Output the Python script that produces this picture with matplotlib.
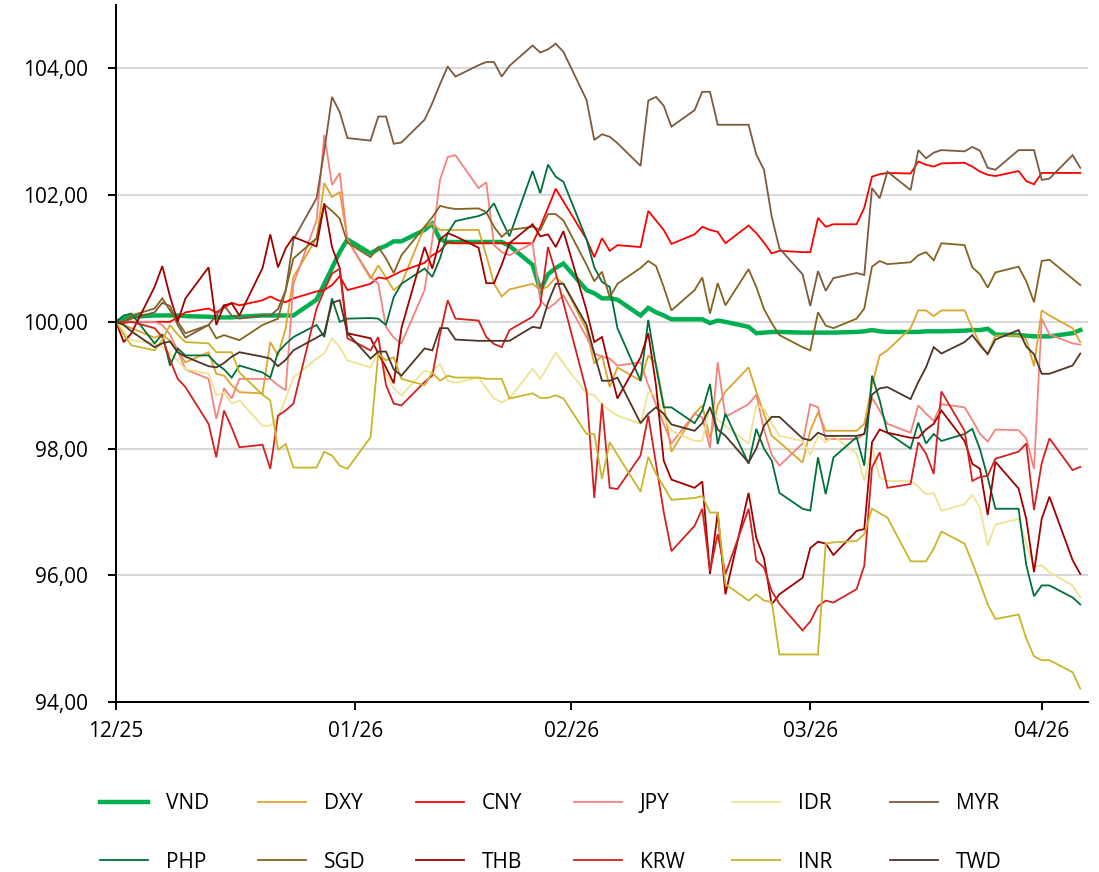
"""Currency indices vs USD, base 100 (12/25 - 04/26)"""
import matplotlib
matplotlib.use("Agg")
import matplotlib.pyplot as plt
import matplotlib.dates as mdates
import pandas as pd

plt.rcParams["font.family"] = ["Open Sans", "DejaVu Sans"]

# trading days, Dec 31 2025 .. May 5 2026
dates = pd.bdate_range("2025-12-31", "2026-05-05")

vnd = [100.0, 100.05, 100.08, 100.1, 100.1, 100.1, 100.1, 100.09, 100.08, 100.07, 100.07, 100.07, 100.08,
       100.1, 100.1, 100.1, 100.1, 100.1, 100.35, 100.6, 100.85, 101.1, 101.3,
       101.08, 101.15, 101.2, 101.27, 101.27, 101.45, 101.55, 101.3, 101.26, 101.26, 101.26, 101.26, 101.26,
       101.26, 101.2, 100.9, 100.5, 100.75, 100.85, 100.92,
       100.5, 100.45, 100.37, 100.37, 100.35, 100.1, 100.22, 100.15, 100.1, 100.04, 100.04, 100.04, 99.98,
       100.02, 100.0, 99.92, 99.82, 99.83, 99.84, 99.84,
       99.83, 99.83, 99.83, 99.83, 99.83, 99.84, 99.85, 99.87, 99.85, 99.84, 99.84, 99.84, 99.85, 99.85,
       99.85, 99.86, 99.87, 99.87, 99.89, 99.8, 99.79, 99.78, 99.77, 99.77, 99.77, 99.82, 99.87]
dxy = [100.0, 99.95, 99.9, 99.75, 99.8, 99.7, 99.55, 99.36, 99.52, 99.18, 99.15, 99.0, 98.89,
       98.87, 99.68, 99.47, 99.9, 100.71, 101.32, 102.19, 101.97, 102.05, 101.3,
       100.68, 100.89, 100.7, 100.5, 100.6, 101.5, 101.55, 101.45, 101.45, 101.45, 101.45, 101.05, 100.6,
       100.4, 100.51, 100.6, 100.5, 100.56, 100.7, 100.6,
       99.87, 99.34, 99.47, 98.97, 99.28, 99.07, 99.47, 99.34, 98.7, 97.95, 98.55, 98.68, 98.15,
       98.68, 98.9, 99.28, 98.9, 98.55, 98.2, 98.1,
       97.78, 98.28, 98.57, 98.28, 98.28, 98.28, 98.39, 99.0, 99.47, 99.55, 99.9, 100.18, 100.18, 100.09,
       100.18, 100.18, 99.9, 99.66, 99.49, 99.78, 99.78, 99.72, 99.3, 100.18, 100.1, 99.9, 99.68]
cny = [100.0, 100.0, 100.0, 100.0, 100.0, 100.0, 100.07, 100.15, 100.21, 100.15, 100.22, 100.3, 100.26,
       100.34, 100.4, 100.34, 100.31, 100.37, 100.48, 100.5, 100.58, 100.72, 100.5,
       100.6, 100.7, 100.68, 100.74, 100.8, 100.93, 101.05, 101.12, 101.26, 101.24, 101.24, 101.24, 101.24,
       101.24, 101.24, 101.24, 101.5, 101.8, 102.1, 101.9,
       101.3, 101.02, 101.32, 101.12, 101.21, 101.18, 101.75, 101.6, 101.45, 101.23, 101.38, 101.5, 101.45,
       101.42, 101.24, 101.52, 101.4, 101.25, 101.08, 101.12,
       101.1, 101.1, 101.64, 101.5, 101.54, 101.54, 101.8, 102.29, 102.33, 102.35, 102.34, 102.53, 102.48,
       102.45, 102.5, 102.51, 102.45, 102.37, 102.32, 102.3, 102.38, 102.22, 102.17, 102.35, 102.35,
       102.35, 102.35]
jpy = [100.0, 100.0, 100.0, 100.0, 99.95, 99.8, 99.55, 99.25, 99.1, 98.47, 98.95, 98.79, 99.1,
       99.1, 99.1, 99.0, 98.92, 100.6, 101.6, 102.95, 102.16, 102.35, 101.29,
       100.71, 100.6, 99.92, 99.75, 99.66, 100.5, 101.29, 102.24, 102.6, 102.63, 102.11, 102.2, 101.21,
       101.1, 101.05, 101.24, 100.34, 100.21, 100.3, 100.42,
       99.76, 99.5, 99.45, 99.42, 99.31, 99.36, 99.0, 98.7, 98.39, 98.08, 98.55, 98.49, 98.01,
       99.36, 98.5, 98.7, 98.85, 98.3, 97.9, 97.73,
       98.08, 98.7, 98.65, 98.15, 98.15, 98.15, 98.23, 98.8, 98.6, 98.39, 98.25, 98.68, 98.55, 98.44,
       98.7, 98.65, 98.45, 98.23, 98.11, 98.3, 98.29, 98.16, 97.68, 100.05, 99.8, 99.66, 99.64]
idr = [100.0, 99.85, 99.71, 99.66, 99.6, 99.5, 99.39, 99.25, 99.18, 98.84, 98.89, 98.71, 98.76,
       98.36, 98.36, 98.49, 98.79, 99.12, 99.42, 99.5, 99.74, 99.6, 99.39,
       99.28, 99.52, 99.18, 98.95, 98.84, 99.23, 99.2, 99.34, 99.07, 99.04, 99.12, 98.95, 98.79,
       98.73, 98.79, 99.26, 99.1, 99.3, 99.52, 99.34,
       98.87, 98.84, 98.7, 98.6, 98.52, 98.39, 98.89, 98.84, 98.5, 98.28, 98.12, 98.12, 98.68,
       98.45, 98.36, 98.08, 98.68, 98.63, 98.4, 98.2,
       98.12, 97.9, 98.2, 98.1, 98.2, 97.92, 97.49, 98.02, 97.54, 97.49, 97.49, 97.4, 97.28, 97.3,
       97.02, 97.12, 97.27, 97.06, 96.47, 96.8, 96.89, 96.5, 96.13, 96.16, 96.05, 95.84, 95.65]
myr = [100.0, 100.0, 100.05, 100.15, 100.3, 100.25, 99.95, 99.75, 99.95, 100.1, 100.26, 100.1, 100.05,
       100.1, 100.1, 100.2, 100.5, 101.3, 101.95, 102.7, 103.55, 103.31, 102.9,
       102.86, 103.24, 103.24, 102.81, 102.83, 103.19, 103.45, 103.75, 104.03, 103.87, 104.05, 104.1, 104.1,
       103.87, 104.04, 104.36, 104.25, 104.3, 104.39, 104.26,
       103.5, 102.87, 102.96, 102.92, 102.82, 102.46, 103.49, 103.55, 103.41, 103.08, 103.34, 103.63, 103.63,
       103.11, 103.11, 103.11, 102.64, 102.4, 101.66, 101.16,
       100.75, 100.25, 100.8, 100.49, 100.69, 100.77, 100.74, 102.11, 101.95, 102.37, 102.08, 102.71, 102.58,
       102.67, 102.71, 102.69, 102.76, 102.7, 102.43, 102.4, 102.71, 102.71, 102.71, 102.24, 102.26,
       102.63, 102.43]
php = [100.0, 100.1, 100.13, 99.66, 99.8, 99.31, 99.58, 99.47, 99.47, 99.34, 99.25, 99.12, 99.31,
       99.2, 99.12, 99.52, 99.65, 99.76, 99.95, 99.76, 100.37, 100.0, 100.05,
       100.06, 100.05, 99.95, 100.39, 100.6, 100.84, 100.71, 101.0, 101.4, 101.59, 101.67, 101.72, 101.87,
       101.6, 101.35, 102.38, 102.03, 102.48, 102.29, 102.21,
       101.3, 100.86, 100.63, 100.55, 99.9, 99.07, 100.03, 99.3, 98.65, 98.65, 98.4, 98.6, 99.02,
       98.07, 98.55, 97.76, 98.31, 98.0, 97.81, 97.3,
       97.05, 97.02, 97.86, 97.28, 97.86, 98.18, 97.73, 99.15, 98.76, 98.25, 98.0, 98.41, 98.08, 98.23,
       98.12, 98.23, 98.31, 97.99, 97.54, 97.05, 97.05, 96.16, 95.67, 95.84, 95.84, 95.65, 95.54]
sgd = [100.0, 100.0, 100.1, 100.21, 100.37, 100.18, 100.0, 99.82, 99.95, 99.74, 99.79, 99.75, 99.71,
       99.95, 100.0, 100.05, 100.5, 101.0, 101.32, 101.85, 101.75, 101.63, 101.25,
       101.02, 101.18, 101.0, 100.77, 101.05, 101.5, 101.65, 101.83, 101.8, 101.78, 101.79, 101.73, 101.5,
       101.34, 101.45, 101.5, 101.45, 101.7, 101.7, 101.6,
       100.9, 100.64, 100.79, 100.39, 100.6, 100.85, 100.96, 100.88, 100.55, 100.18, 100.5, 100.7, 100.13,
       100.61, 100.26, 100.83, 100.55, 100.2, 99.98, 99.79,
       99.6, 99.55, 100.15, 99.94, 99.9, 100.05, 100.21, 100.87, 100.96, 100.91, 100.94, 101.05, 101.1,
       100.97, 101.24, 101.21, 100.86, 100.75, 100.54, 100.78, 100.87, 100.64, 100.31, 100.96, 100.98,
       100.68, 100.58]
thb = [100.0, 99.68, 99.82, 100.55, 100.88, 100.4, 100.0, 100.37, 100.86, 99.95, 100.26, 100.29, 100.1,
       100.85, 101.38, 100.86, 101.16, 101.34, 101.19, 101.87, 101.18, 100.85, 99.82,
       99.74, 99.5, 99.28, 99.03, 99.9, 101.18, 100.84, 101.3, 101.4, 101.35, 101.17, 100.61, 100.61,
       100.9, 101.24, 101.54, 101.35, 101.38, 101.18, 101.43,
       100.18, 99.68, 99.76, 99.26, 98.79, 99.44, 99.82, 99.0, 97.81, 97.51, 97.38, 97.48, 96.02,
       96.99, 95.7, 97.3, 96.59, 96.27, 95.54, 95.7,
       95.96, 96.43, 96.53, 96.5, 96.32, 96.7, 96.73, 98.1, 98.3, 98.25, 98.17, 98.17, 98.3, 98.39,
       98.6, 98.12, 97.76, 97.68, 96.95, 97.79, 97.37, 96.89, 96.05, 96.89, 97.24, 96.24, 96.02]
krw = [100.0, 99.98, 100.0, 99.9, 99.76, 99.4, 99.1, 98.97, 98.39, 97.86, 98.6, 98.33, 98.02,
       98.06, 97.68, 98.52, 98.6, 98.71, 100.21, 100.5, 100.76, 100.84, 99.74,
       99.55, 99.76, 99.0, 98.71, 98.68, 99.05, 99.15, 99.8, 100.34, 100.05, 100.02, 99.76, 99.65,
       99.6, 99.87, 100.08, 100.26, 101.18, 100.77, 100.3,
       98.9, 97.22, 98.71, 97.38, 97.36, 97.89, 98.52, 97.76, 97.0, 96.38, 96.78, 97.05, 96.07,
       96.65, 96.02, 97.05, 96.23, 96.12, 95.75, 95.55,
       95.13, 95.27, 95.51, 95.6, 95.57, 95.78, 96.15, 97.7, 97.94, 97.38, 97.44, 98.1, 97.92, 97.6,
       98.9, 98.28, 97.49, 97.55, 97.57, 97.84, 97.95, 98.08, 97.03, 97.77, 98.16, 97.66, 97.71]
inr = [100.0, 99.8, 99.63, 99.55, 99.71, 99.95, 99.8, 99.68, 99.66, 99.52, 99.52, 99.52, 99.2,
       98.85, 98.76, 97.98, 98.07, 97.7, 97.7, 97.95, 97.89, 97.73, 97.68,
       98.18, 99.5, 99.39, 99.44, 99.1, 99.0, 99.2, 99.07, 99.15, 99.12, 99.12, 99.1, 99.1,
       99.1, 98.79, 98.87, 98.8, 98.8, 98.84, 98.79,
       98.23, 98.23, 97.52, 98.1, 97.9, 97.32, 97.87, 97.6, 97.4, 97.19, 97.22, 97.25, 96.99,
       96.99, 95.86, 95.6, 95.7, 95.6, 95.58, 94.75,
       94.75, 94.75, 94.75, 96.5, 96.52, 96.54, 96.65, 97.05, 96.98, 96.91, 96.22, 96.22, 96.22, 96.42,
       96.69, 96.5, 96.2, 95.88, 95.54, 95.31, 95.38, 95.0, 94.72, 94.66, 94.66, 94.47, 94.21]
twd = [100.0, 99.95, 99.85, 99.6, 99.66, 99.69, 99.52, 99.45, 99.3, 99.28, 99.35, 99.45, 99.52,
       99.45, 99.42, 99.3, 99.4, 99.55, 99.75, 99.82, 100.3, 100.34, 99.82,
       99.42, 99.53, 99.53, 99.25, 99.15, 99.58, 99.55, 99.9, 99.9, 99.72, 99.7, 99.7, 99.7,
       99.7, 99.7, 99.92, 99.9, 100.3, 100.6, 100.6,
       99.95, 99.5, 99.07, 99.07, 99.12, 98.4, 98.55, 98.65, 98.55, 98.38, 98.28, 98.4, 98.65,
       98.3, 98.2, 97.78, 98.0, 98.36, 98.5, 98.5,
       98.16, 98.13, 98.25, 98.2, 98.2, 98.2, 98.23, 98.85, 98.95, 98.97, 98.78, 99.05, 99.28, 99.6,
       99.5, 99.68, 99.79, 99.63, 99.49, 99.72, 99.87, 99.61, 99.49, 99.18, 99.18, 99.31, 99.5]

names = ["VND", "DXY", "CNY", "JPY", "IDR", "MYR", "PHP", "SGD", "THB", "KRW", "INR", "TWD"]
series = [vnd, dxy, cny, jpy, idr, myr, php, sgd, thb, krw, inr, twd]
colors = ["#00B050", "#DDA52C", "#FF0000", "#F4837D", "#EEE391", "#7E5A3C",
          "#00703A", "#846420", "#A00000", "#D42020", "#C9B52A", "#4E3626"]

tick_dates = ["2025-12-31", "2026-01-31", "2026-02-28", "2026-03-31", "2026-04-30"]
tick_labels = ["12/25", "01/26", "02/26", "03/26", "04/26"]
y_ticks = [94, 96, 98, 100, 102, 104]

fig = plt.figure(figsize=(10.99, 8.72), dpi=100)
ax = fig.add_axes([116 / 1099, 1 - 702 / 872, (1088 - 116) / 1099, (702 - 5) / 872])

lines = {}
for name, vals, col in zip(names, series, colors):
    lw = 3.2 if name == "VND" else 1.3
    (ln,) = ax.plot(dates, vals, color=col, lw=lw, label=name, solid_joinstyle="miter")
    lines[name] = ln

ax.set_xlim(pd.Timestamp("2025-12-31"), pd.Timestamp("2026-05-06"))
ax.set_ylim(94, 105)
ax.set_yticks(y_ticks)
ax.set_yticklabels([f"{v:.2f}".replace(".", ",") for v in y_ticks])
ax.set_xticks([mdates.date2num(pd.Timestamp(d)) for d in tick_dates])
ax.set_xticklabels(tick_labels)
ax.grid(axis="y", color="#D9D9D9", lw=1.5)
ax.set_axisbelow(True)
for s in ["top", "right"]:
    ax.spines[s].set_visible(False)
for s in ["left", "bottom"]:
    ax.spines[s].set_linewidth(1.4)
ax.tick_params(axis="both", labelsize=15, width=1.4, length=6, direction="out")
ax.tick_params(axis="x", pad=8)
ax.tick_params(axis="y", pad=14)

# legend: six evenly spaced columns, two rows
for i in range(6):
    pair = [names[i], names[i + 6]]
    leg = fig.legend([lines[n] for n in pair], pair, loc="upper left",
                     bbox_to_anchor=((100 + 158 * i) / 1099, 1 - 793 / 872), frameon=False,
                     fontsize=15, handlelength=2.3, handletextpad=0.85,
                     labelspacing=1.8, borderpad=0, borderaxespad=0)

fig.savefig("out.png", dpi=100)
